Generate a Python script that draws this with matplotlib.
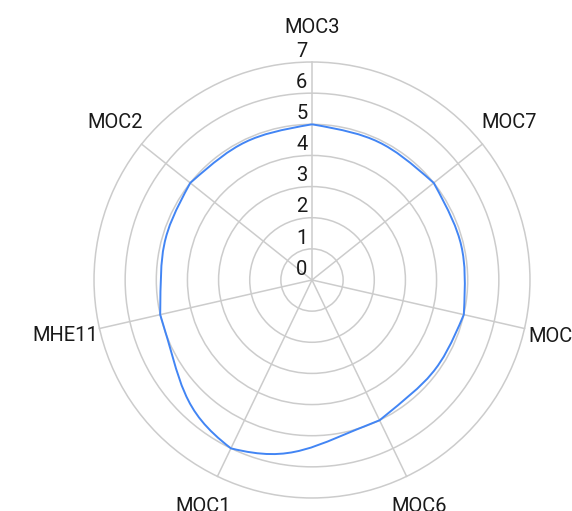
import numpy as np
import matplotlib
matplotlib.use("Agg")
import matplotlib.pyplot as plt
from matplotlib.path import Path
from matplotlib.patches import PathPatch, Circle

plt.rcParams["font.family"] = ["Roboto", "DejaVu Sans"]

# data
LABELS = ["MOC3", "MOC7", "MOC4", "MOC6", "MOC1", "MHE11", "MOC2"]
VALUES = [5, 5, 5, 5, 6, 5, 5]
TICKS = [0, 1, 2, 3, 4, 5, 6, 7]
R_MAX = 7

# style / layout
GRID = "#cccccc"
LINE = "#4285f4"
TEXT = "#1a1a1a"
FS = 14.5
TENSION = 0.55
CP_SCALE = 0.93       # control points pulled a bit toward centre -> slight kink at vertices
UNIT = 31.14          # px per value unit
CX, CY = 312, 280     # centre in px
W, H = 572, 511

fig = plt.figure(figsize=(W / 100, H / 100), dpi=100)
ax = fig.add_axes([0, 0, 1, 1])
ax.set_xlim(-CX / UNIT, (W - CX) / UNIT)
ax.set_ylim(-(H - CY) / UNIT, CY / UNIT)
ax.axis("off")

n = len(LABELS)
theta = np.arange(n) * 2 * np.pi / n

# rings + spokes
for v in TICKS[1:]:
    ax.add_patch(Circle((0, 0), v, fill=False, ec=GRID, lw=1.1, zorder=1))
for th in theta:
    ax.plot([0, R_MAX * np.sin(th)], [0, R_MAX * np.cos(th)], color=GRID, lw=1.1, zorder=1)

# tick labels
for v in TICKS:
    ax.text(-0.15, v + 0.17, str(v), ha="right", va="baseline", fontsize=FS, color=TEXT, zorder=3)

# series as a closed bezier spline
vals = np.array(VALUES, dtype=float)
pts = np.column_stack([vals * np.sin(theta), vals * np.cos(theta)])
cp_in, cp_out = [], []
for i in range(n):
    prev, cur, nxt = pts[i - 1], pts[i], pts[(i + 1) % n]
    d01 = np.hypot(*(cur - prev))
    d12 = np.hypot(*(nxt - cur))
    fa = TENSION * d01 / (d01 + d12)
    fb = TENSION * d12 / (d01 + d12)
    cp_in.append(CP_SCALE * (cur - fa * (nxt - prev)))
    cp_out.append(CP_SCALE * (cur + fb * (nxt - prev)))

verts = [pts[0]]
codes = [Path.MOVETO]
for i in range(n):
    j = (i + 1) % n
    verts += [cp_out[i], cp_in[j], pts[j]]
    codes += [Path.CURVE4] * 3
ax.add_patch(PathPatch(Path(verts, codes), fill=False, ec=LINE, lw=1.4, zorder=2))

# point labels (x, y in value units, alignment)
LABEL_POS = [
    (0.0, 7.92, "center", "baseline"),
    (5.43, 4.89, "left", "baseline"),
    (6.94, -1.98, "left", "baseline"),
    (3.44, -6.96, "center", "top"),
    (-3.51, -6.96, "center", "top"),
    (-6.86, -1.96, "right", "baseline"),
    (-5.44, 4.89, "right", "baseline"),
]
for lab, (x, y, ha, va) in zip(LABELS, LABEL_POS):
    ax.text(x, y, lab, ha=ha, va=va, fontsize=FS, color=TEXT)

fig.savefig("out.png", dpi=100)
